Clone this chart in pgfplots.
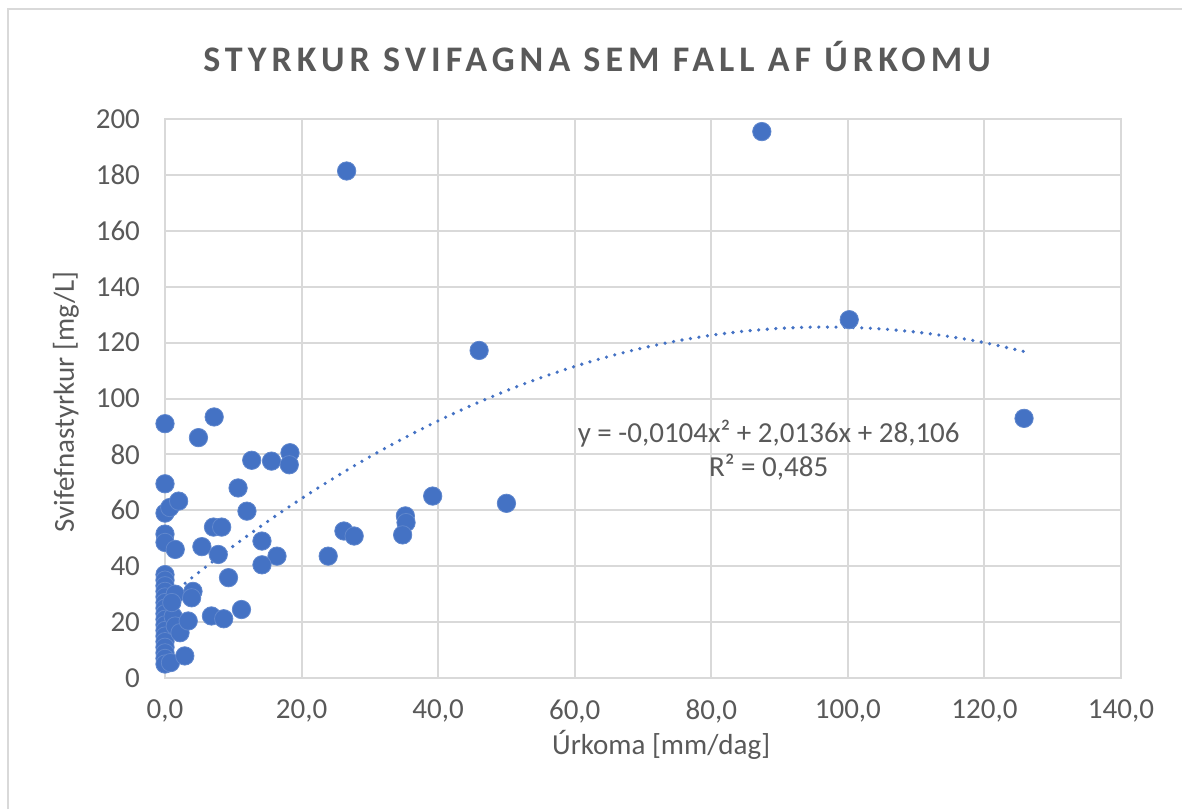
\documentclass[border=0pt]{standalone}
\usepackage{pgfplots}
\pgfplotsset{compat=1.18}
\usepackage{fontspec}
\setmainfont{Carlito}
\newfontfamily\titlefont{Carlito}[LetterSpace=14]
\definecolor{txt}{HTML}{595959}
\definecolor{gridc}{HTML}{D9D9D9}
\definecolor{ptc}{HTML}{4472C4}
\begin{document}
\begin{tikzpicture}
\useasboundingbox (0,0) rectangle (591pt,-404.5pt);
\draw[gridc, line width=1pt] (4pt,-404.5pt) -- (4pt,-4.5pt) -- (591pt,-4.5pt);
\node[text=txt, font=\titlefont\bfseries\fontsize{18}{21}\selectfont] at (298.5pt,-28.5pt) {STYRKUR SVIFAGNA SEM FALL AF ÚRKOMU};
\begin{axis}[
  at={(82.5pt,-339pt)}, anchor=south west,
  scale only axis, width=478pt, height=279.5pt,
  xmin=0, xmax=140, ymin=0, ymax=200,
  xtick={0,20,...,140}, ytick={0,20,...,200},
  grid=major, major grid style={gridc, line width=1pt},
  axis line style={gridc, line width=1pt},
  major tick length=0pt,
  tick label style={text=txt, font=\fontsize{14.5}{17}\selectfont},
  /pgf/number format/assume math mode=true,
  x tick label style={/pgf/number format/.cd, fixed, fixed zerofill, precision=1, use comma, /tikz/.cd, yshift=-7.5pt},
  y tick label style={xshift=-9pt},
  xlabel={Úrkoma [mm/dag]},
  xlabel style={at={(axis description cs:0.519,-0.12)}, anchor=center, text=txt, font=\fontsize{14.5}{17}\selectfont},
  ylabel={Svifefnastyrkur [mg/L]},
  ylabel style={at={(axis description cs:-0.1036,0.494)}, anchor=center, text=txt, font=\fontsize{14.5}{17}\selectfont},
  clip=false,
]
\addplot[only marks, mark=*, mark size=4.6pt, mark options={fill=ptc, draw=ptc!85!white, line width=0.4pt}] coordinates {
(0,91) (0,69.5) (0,59) (0,51.5) (0,48.5) (0,37) (0,35) (0,33) (0,31) (0,29) (0,27) (0,25) (0,23) (0,21) (0,19) (0,17) (0,15) (0,13) (0,11) (0,9) (0,7) (0,5)
(0.7,61) (2.0,63.3) (1.5,46) (1.5,30) (1.2,22) (1.5,18.6) (2.2,16.2) (0.8,5.5) (1.0,27)
(4.9,86) (7.2,93.4) (12.7,77.9) (15.6,77.6) (18.3,80.6) (18.2,76.3) (10.7,68) (12.0,59.7)
(7.1,54) (8.3,54) (5.4,47) (7.8,44.2) (14.2,49) (16.4,43.6) (14.2,40.5) (23.9,43.6)
(26.2,52.6) (27.7,50.8) (35.2,58) (35.3,55.6) (34.8,51.2) (39.2,65.1) (46.0,117.2) (50.0,62.5)
(26.6,181.4) (87.4,195.5) (100.2,128.2) (125.8,92.9)
(4.1,31) (3.9,28.7) (9.3,35.9) (11.2,24.5) (6.8,22.2) (8.6,21.2) (3.4,20.4) (2.9,7.9)
};
\addplot[ptc, line width=1.8pt, dash pattern=on 0pt off 4.3pt, line cap=round, smooth] coordinates {
(0,28.106) (5,37.914) (10,47.202) (15,55.970) (20,64.218) (25,71.946) (30,79.154) (35,85.842)
(40,92.010) (45,97.658) (50,102.786) (55,107.394) (60,111.482) (65,115.050) (70,118.098)
(75,120.626) (80,122.634) (85,124.122) (90,125.090) (95,125.538) (100,125.466) (105,124.874)
(110,123.762) (115,122.130) (120,119.978) (126,116.710)
};
\node[text=txt, font=\fontsize{14.5}{17}\selectfont, align=center] at (axis cs:88.4,81.6) {y = -0,0104x² + 2,0136x + 28,106\\R² = 0,485};
\end{axis}
\end{tikzpicture}
\end{document}
